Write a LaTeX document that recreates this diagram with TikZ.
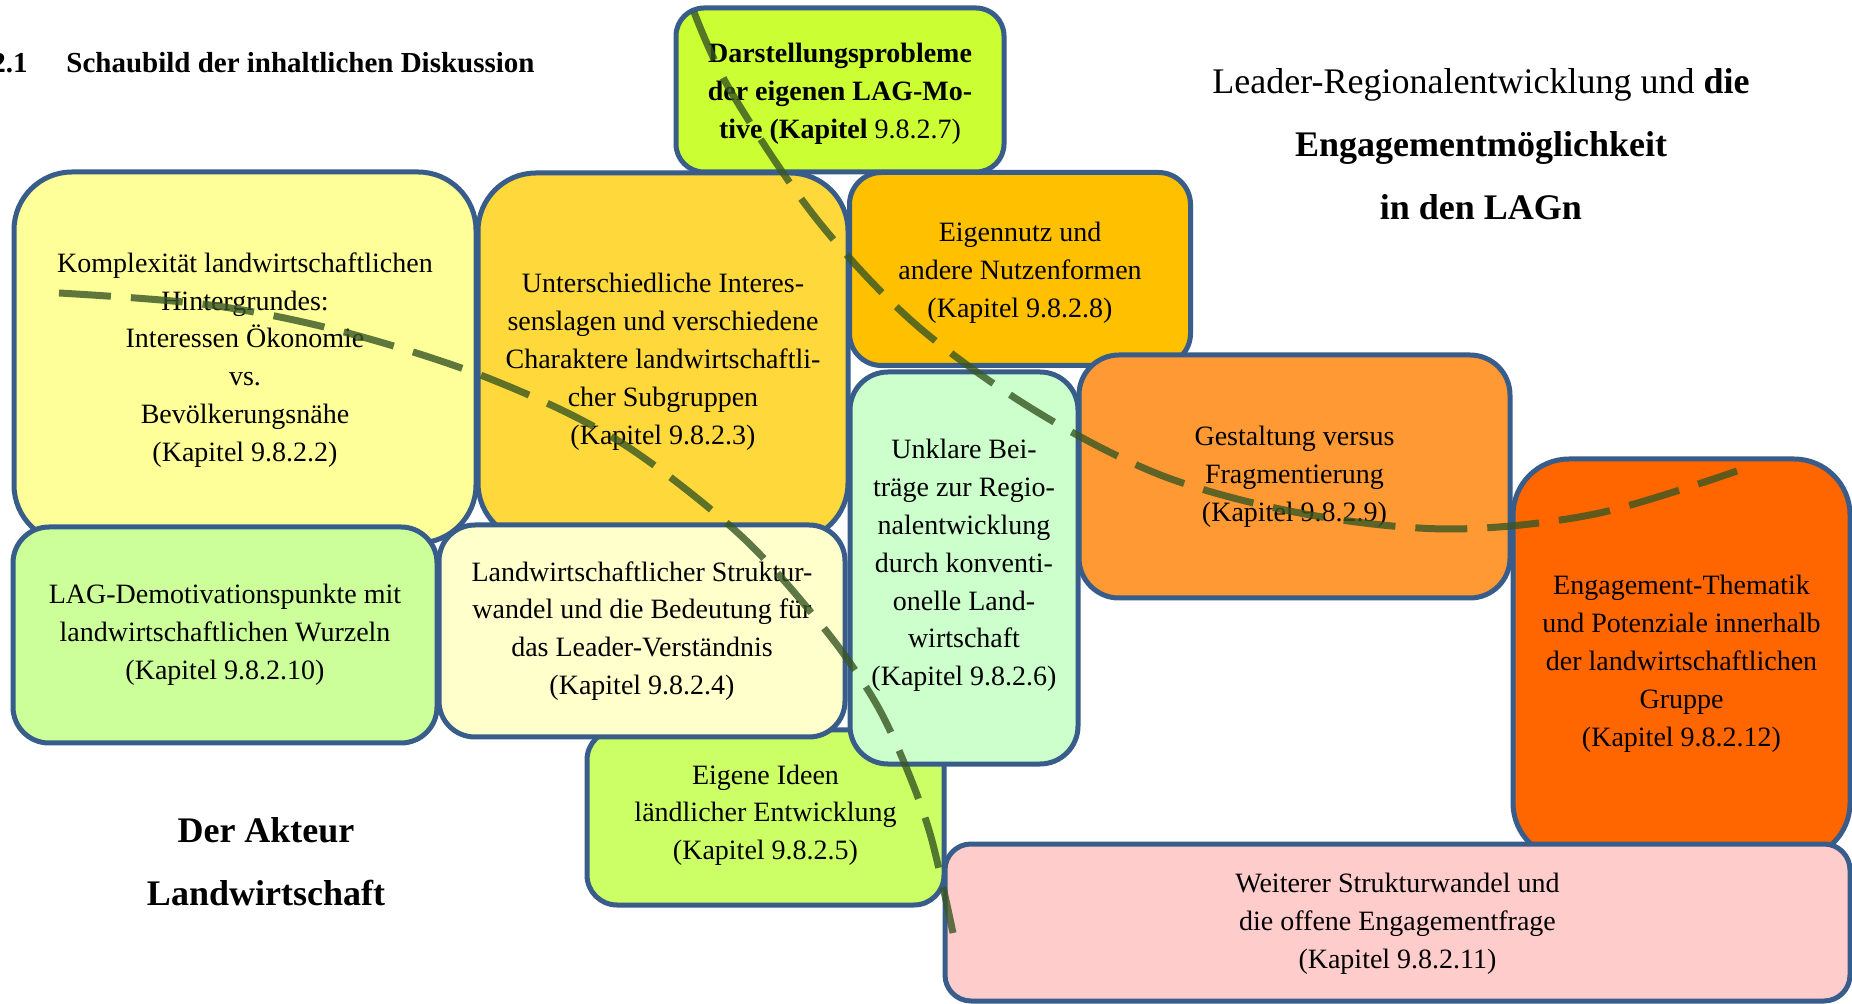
\documentclass[tikz,border=0pt]{standalone}
\usepackage{fontspec}
\setmainfont{Liberation Serif}
\definecolor{frameblue}{HTML}{385D8A}
\definecolor{pathgreen}{HTML}{375623}
\definecolor{cLime}{HTML}{CCFF33}
\definecolor{cPaleYellow}{HTML}{FFFF99}
\definecolor{cGold}{HTML}{FFD83B}
\definecolor{cAmber}{HTML}{FFC000}
\definecolor{cMint}{HTML}{CCFFCC}
\definecolor{cOrange}{HTML}{FF9933}
\definecolor{cDeepOrange}{HTML}{FF6600}
\definecolor{cLightGreen}{HTML}{CCFF99}
\definecolor{cCream}{HTML}{FFFFCC}
\definecolor{cYellowGreen}{HTML}{CCFF66}
\definecolor{cRose}{HTML}{FFCCCC}
\begin{document}
\begin{tikzpicture}[x=0.5pt,y=-0.5pt,
  panel/.style={draw=frameblue, line width=2.5pt, inner sep=0pt},
  paneltext/.style={align=center, inner sep=0pt,
    font=\fontsize{14pt}{18.9pt}\selectfont},
  flow/.style={draw=pathgreen, draw opacity=0.8, line width=3.5pt,
    dash pattern=on 26pt off 10pt},
  heading/.style={align=center, font=\fontsize{18pt}{31.5pt}\selectfont}]

% page
\fill[white] (0,0) rectangle (1852,1004);
\useasboundingbox (0,0) rectangle (1852,1004);

% section heading
\node[anchor=base west, inner sep=0pt, font=\fontsize{14.5pt}{17pt}\selectfont\bfseries] (secnum) at (-9,73) {2.1};
\node[anchor=base west, inner sep=0pt, font=\fontsize{14.5pt}{17pt}\selectfont\bfseries] (sectitle) at (66,73) {Schaubild der inhaltlichen Diskussion};

% topic panels (back to front), each with its caption
\node[panel, fill=cPaleYellow, minimum width=231pt, minimum height=185.5pt, rounded corners=29pt] (kom) at (245,357.5) {};
\node[paneltext, yshift=-1.2pt] (komT) at (kom.center)
  {Komplexität landwirtschaftlichen\\Hintergrundes:\\Interessen Ökonomie\\vs.\\Bevölkerungsnähe\\(Kapitel 9.8.2.2)};

\node[panel, fill=cGold, minimum width=185pt, minimum height=184pt, rounded corners=29pt] (unt) at (663,357) {};
\node[paneltext, yshift=-2.4pt] (untT) at (unt.center)
  {Unterschiedliche Interes-\\senslagen und verschiedene\\Charaktere landwirtschaftli-\\cher Subgruppen\\(Kapitel 9.8.2.3)};

\node[panel, fill=cLime, minimum width=164pt, minimum height=82pt, rounded corners=14pt] (dar) at (840,90) {};
\node[paneltext, yshift=-1.8pt] (darT) at (dar.center)
  {\textbf{Darstellungsprobleme}\\\textbf{der eigenen LAG-Mo-}\\\textbf{tive (Kapitel} 9.8.2.7)};

\node[panel, fill=cAmber, minimum width=170.5pt, minimum height=96.5pt, rounded corners=16pt] (eig) at (1020,269) {};
\node[paneltext, yshift=-1.8pt] (eigT) at (eig.center)
  {Eigennutz und\\andere Nutzenformen\\(Kapitel 9.8.2.8)};

\node[panel, fill=cDeepOrange, minimum width=168.5pt, minimum height=200pt, rounded corners=28pt] (eng) at (1681.5,659) {};
\node[paneltext, yshift=-2.4pt] (engT) at (eng.center)
  {Engagement-Thematik\\und Potenziale innerhalb\\der landwirtschaftlichen\\Gruppe\\(Kapitel 9.8.2.12)};

\node[panel, fill=cOrange, minimum width=215.5pt, minimum height=121.5pt, rounded corners=20pt] (ges) at (1294.5,476.5) {};
\node[paneltext] (gesT) at (ges.center)
  {Gestaltung versus\\Fragmentierung\\(Kapitel 9.8.2.9)};

\node[panel, fill=cYellowGreen, minimum width=178.5pt, minimum height=87.5pt, rounded corners=15pt] (ide) at (765.5,817.5) {};
\node[paneltext, yshift=1.2pt] (ideT) at (ide.center)
  {Eigene Ideen\\ländlicher Entwicklung\\(Kapitel 9.8.2.5)};

\node[panel, fill=cLightGreen, minimum width=212pt, minimum height=108pt, rounded corners=18pt] (lag) at (225,635) {};
\node[paneltext] (lagT) at (lag.center)
  {LAG-Demotivationspunkte mit\\landwirtschaftlichen Wurzeln\\(Kapitel 9.8.2.10)};

\node[panel, fill=cCream, minimum width=203pt, minimum height=106pt, rounded corners=18pt] (str) at (642,631) {};
\node[paneltext] (strT) at (str.center)
  {Landwirtschaftlicher Struktur-\\wandel und die Bedeutung für\\das Leader-Verständnis\\(Kapitel 9.8.2.4)};

\node[panel, fill=cMint, minimum width=114pt, minimum height=196pt, rounded corners=19pt] (unk) at (964,568) {};
\node[paneltext, yshift=1.2pt] (unkT) at (unk.center)
  {Unklare Bei-\\träge zur Regio-\\nalentwicklung\\durch konventi-\\onelle Land-\\wirtschaft\\(Kapitel 9.8.2.6)};

\node[panel, fill=cRose, minimum width=452.5pt, minimum height=78.5pt, rounded corners=13pt] (wei) at (1397.5,922.5) {};
\node[paneltext, yshift=-0.6pt] (weiT) at (wei.center)
  {Weiterer Strukturwandel und\\die offene Engagementfrage\\(Kapitel 9.8.2.11)};

% headings
\node[heading] (ttl) at (1481,144)
  {Leader-Regionalentwicklung und \textbf{die}\\\textbf{Engagementmöglichkeit}\\\textbf{in den LAGn}};
\node[heading, font=\fontsize{18pt}{31.5pt}\selectfont\bfseries] (akt) at (266,861.5)
  {Der Akteur\\Landwirtschaft};

% dashed guide curves
\coordinate (arcAstart) at (694,12);
\coordinate (arcAend) at (1737,471);
\coordinate (arcBstart) at (59,293);
\coordinate (arcBend) at (953,933);
\draw[flow] plot[smooth, tension=0.55] coordinates {(arcAstart) (730,90) (815,217) (914,323) (1034,410) (1163,476) (1305,514) (1450,529) (1595,514) (arcAend)};
\draw[flow] plot[smooth, tension=0.55] coordinates {(arcBstart) (210,305) (344,332) (488,378) (617,440) (738,533) (823,627) (874,700) (906,767) (931,837) (arcBend)};
\end{tikzpicture}
\end{document}
